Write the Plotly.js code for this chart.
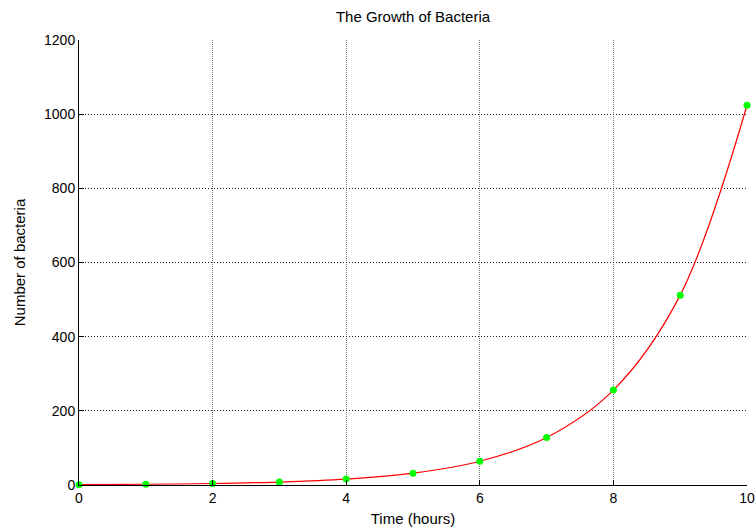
<!DOCTYPE html>
<html>
<head>
<meta charset="utf-8">
<script src="https://cdn.plot.ly/plotly-3.0.1.min.js"></script>
<style>html,body{margin:0;padding:0;background:#fff}#chart{width:755px;height:529px}</style>
</head>
<body>
<div id="chart"></div>
<script>
const hours = [0, 1, 2, 3, 4, 5, 6, 7, 8, 9, 10];
const bacteria = [1, 2, 4, 8, 16, 32, 64, 128, 256, 512, 1024];
const xTicks = [0, 2, 4, 6, 8, 10];
const yTicks = [0, 200, 400, 600, 800, 1000, 1200];

const fam = 'Liberation Sans, Arial, sans-serif';

const traces = [
  {
    x: hours, y: bacteria, type: 'scatter', mode: 'lines',
    line: {color: '#ff0000', width: 1.2, shape: 'spline', smoothing: 1},
    hoverinfo: 'skip'
  },
  {
    x: hours, y: bacteria, type: 'scatter', mode: 'markers',
    marker: {color: '#00ff00', size: 7},
    cliponaxis: false
  }
];

const layout = {
  width: 755, height: 529,
  margin: {l: 79, r: 8, t: 40, b: 44},
  paper_bgcolor: '#fff', plot_bgcolor: '#fff',
  showlegend: false,
  font: {family: fam, size: 14, color: '#000'},
  title: {text: 'The Growth of Bacteria', font: {family: fam, size: 15, color: '#000'},
          xref: 'paper', x: 0.5, xanchor: 'center', yref: 'container', y: 0.968, yanchor: 'middle'},
  xaxis: {
    range: [0, 10], tickvals: xTicks, ticktext: xTicks.map(String),
    showgrid: true, gridcolor: '#777', griddash: '1px,1px', gridwidth: 1,
    zeroline: false, showline: true, linecolor: '#000', linewidth: 1,
    ticks: 'inside', ticklen: 5, tickcolor: '#000',
    tickfont: {family: fam, size: 14, color: '#000'},
    title: {text: 'Time (hours)', font: {family: fam, size: 15, color: '#000'}, standoff: 8}
  },
  yaxis: {
    range: [0, 1200], tickvals: yTicks, ticktext: yTicks.map(String),
    showgrid: true, gridcolor: '#222', griddash: '1px,2px', gridwidth: 1,
    zeroline: false, showline: true, linecolor: '#000', linewidth: 1,
    ticks: 'inside', ticklen: 5, tickcolor: '#000',
    tickfont: {family: fam, size: 14, color: '#000'},
    title: {text: 'Number of bacteria', font: {family: fam, size: 15, color: '#000'}, standoff: 14}
  }
};

Plotly.newPlot('chart', traces, layout, {displayModeBar: false, staticPlot: true});
</script>
</body>
</html>
